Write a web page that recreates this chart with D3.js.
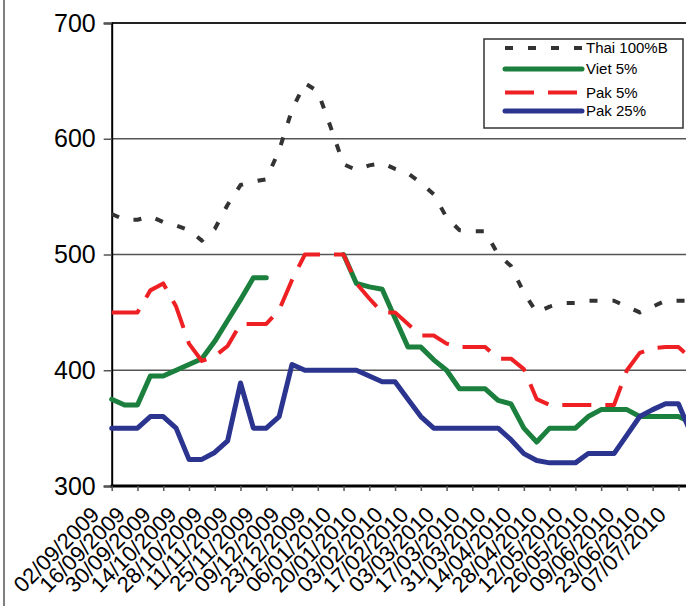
<!DOCTYPE html>
<html>
<head>
<meta charset="utf-8">
<script src="https://cdn.jsdelivr.net/npm/d3@7"></script>
<style>
  body { margin: 0; background: #fff; }
  text { font-family: "Liberation Sans", Arial, sans-serif; fill: #000; }
</style>
</head>
<body>
<div id="chart"></div>
<script>
var weeks = ["02/09/2009","09/09/2009","16/09/2009","23/09/2009","30/09/2009","07/10/2009",
             "14/10/2009","21/10/2009","28/10/2009","04/11/2009","11/11/2009","18/11/2009",
             "25/11/2009","02/12/2009","09/12/2009","16/12/2009","23/12/2009","30/12/2009",
             "06/01/2010","13/01/2010","20/01/2010","27/01/2010","03/02/2010","10/02/2010",
             "17/02/2010","24/02/2010","03/03/2010","10/03/2010","17/03/2010","24/03/2010",
             "31/03/2010","07/04/2010","14/04/2010","21/04/2010","28/04/2010","05/05/2010",
             "12/05/2010","19/05/2010","26/05/2010","02/06/2010","09/06/2010","16/06/2010",
             "23/06/2010","30/06/2010","07/07/2010","14/07/2010"];

var thai100B = [535,530,530,533,528,525,521,512,522,543,560,563,565,590,625,648,641,610,578,573,
                577,579,574,570,562,552,532,521,520,520,500,490,467,450,455,458,458,460,460,460,
                455,450,455,460,460,460];
var viet5 = [375,370,370,395,395,400,405,410,425,443,461,480,480,null,null,null,null,null,500,475,
             472,470,445,420,420,409,400,384,384,384,374,371,350,338,350,350,350,360,366,366,
             366,360,360,360,360,355];
var pak5 = [450,450,450,469,475,455,423,408,412,421,440,440,440,452,478,500,500,500,500,475,
            462,450,450,440,430,430,423,420,420,420,410,410,401,375,370,370,370,370,370,370,
            400,415,419,420,420,410];
var pak25 = [350,350,350,360,360,350,323,323,329,339,389,350,350,360,405,400,400,400,400,400,
             395,390,390,375,360,350,350,350,350,350,350,340,328,322,320,320,320,328,328,328,
             344,360,366,371,371,345];

var yTicks = [300, 400, 500, 600, 700];

var seriesList = [
  {name: "Thai 100%B", values: thai100B, color: "#333333", width: 4, dash: "8,15", cap: "butt"},
  {name: "Viet 5%", values: viet5, color: "#1b7f3e", width: 5, dash: null, cap: "round"},
  {name: "Pak 5%", values: pak5, color: "#ee2024", width: 4, dash: "29,14", cap: "butt"},
  {name: "Pak 25%", values: pak25, color: "#2b3590", width: 5, dash: null, cap: "round"}
];

var width = 686, height = 606;
var plotLeft = 111.7, plotTop = 23, plotBottom = 486;

var svg = d3.select("#chart").append("svg")
  .attr("width", width)
  .attr("height", height);

svg.append("rect").attr("width", width).attr("height", height).attr("fill", "#fff");

var x = d3.scalePoint()
  .domain(weeks)
  .range([plotLeft, plotLeft + 12.88 * (weeks.length - 1)]);

var y = d3.scaleLinear()
  .domain([300, 700])
  .range([plotBottom, plotTop]);

// outer chart border (left edge only visible)
svg.append("line")
  .attr("x1", 4).attr("x2", 4).attr("y1", 0).attr("y2", height)
  .attr("stroke", "#555").attr("stroke-width", 1.5);

// gridlines
svg.selectAll("line.grid")
  .data(yTicks.filter(function(d){return d > 300;}))
  .enter().append("line")
    .attr("class", "grid")
    .attr("x1", plotLeft).attr("x2", width)
    .attr("y1", function(d){return y(d);})
    .attr("y2", function(d){return y(d);})
    .attr("stroke", function(d){return d == 700 ? "#222" : "#555";})
    .attr("stroke-width", function(d){return d == 700 ? 2 : 1.5;});

// y axis
var yAxis = svg.append("g")
  .attr("transform", "translate(" + plotLeft + ",0)")
  .call(d3.axisLeft(y).tickValues(yTicks).tickSize(8).tickPadding(8));
yAxis.select(".domain").attr("stroke", "#000").attr("stroke-width", 2);
yAxis.selectAll(".tick line").attr("stroke", "#555").attr("stroke-width", 1.5);
yAxis.selectAll(".tick text")
  .style("font-family", "'Liberation Sans', Arial, sans-serif")
  .style("font-size", "25px")
  .attr("fill", "#000");

// x axis
var labelWeeks = weeks.filter(function(d, i){return i % 2 == 0;});
var xAxis = svg.append("g")
  .attr("transform", "translate(0," + plotBottom + ")")
  .call(d3.axisBottom(x).tickValues(labelWeeks).tickSize(5).tickFormat(""));
xAxis.select(".domain").attr("stroke", "#000").attr("stroke-width", 3)
  .attr("d", "M" + (plotLeft - 1) + ",0H" + width);
xAxis.selectAll(".tick line").attr("stroke", "#555").attr("stroke-width", 1.5);

svg.selectAll("text.xlabel")
  .data(labelWeeks)
  .enter().append("text")
    .attr("class", "xlabel")
    .attr("text-anchor", "end")
    .attr("transform", function(d){return "translate(" + (x(d) - 11) + ",516) rotate(-45)";})
    .style("font-size", "22px")
    .text(function(d){return d;});

// series
var line = d3.line()
  .defined(function(d){return d.v != null;})
  .x(function(d){return x(d.w);})
  .y(function(d){return y(d.v);});

seriesList.forEach(function(s){
  var pts = weeks.map(function(w, i){return {w: w, v: s.values[i]};});
  svg.append("path")
    .datum(pts)
    .attr("d", line)
    .attr("fill", "none")
    .attr("stroke", s.color)
    .attr("stroke-width", s.width)
    .attr("stroke-linejoin", "round")
    .attr("stroke-linecap", s.cap)
    .attr("stroke-dasharray", s.dash);
});

// legend
var legend = svg.append("g").attr("transform", "translate(484,39)");
legend.append("rect")
  .attr("width", 199).attr("height", 89)
  .attr("fill", "#fff").attr("stroke", "#333").attr("stroke-width", 1.5);

var legendRows = [9, 30, 53.5, 72];
seriesList.forEach(function(s, i){
  legend.append("line")
    .attr("x1", 21).attr("x2", 98)
    .attr("y1", legendRows[i]).attr("y2", legendRows[i])
    .attr("stroke", s.color)
    .attr("stroke-width", s.width)
    .attr("stroke-linecap", s.cap)
    .attr("stroke-dasharray", s.dash);
  legend.append("text")
    .attr("x", 102).attr("y", legendRows[i])
    .attr("dy", "0.36em")
    .style("font-size", "15px")
    .text(s.name);
});
</script>
</body>
</html>
